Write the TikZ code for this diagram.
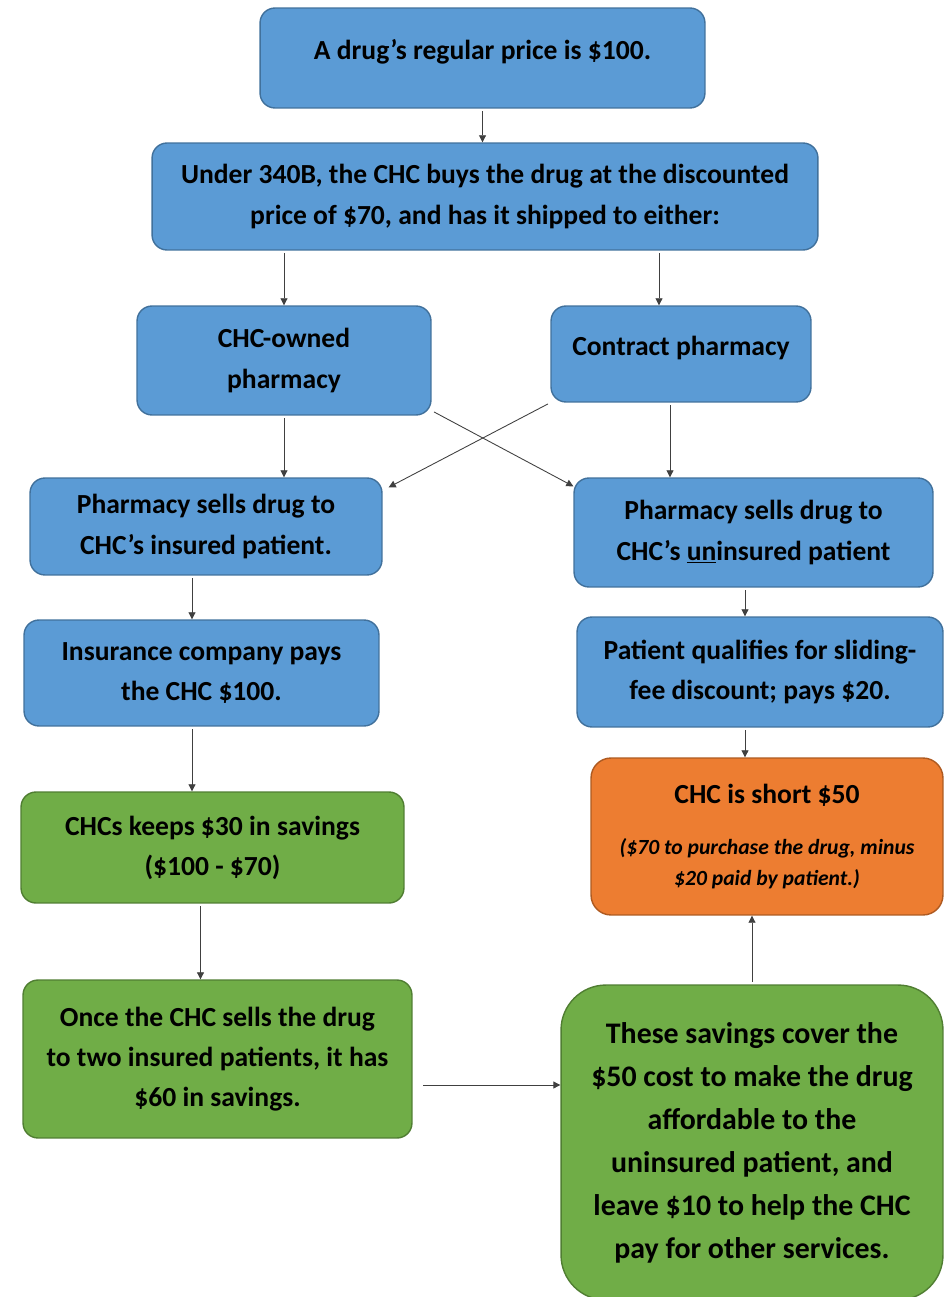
\documentclass[tikz,border=0pt]{standalone}
\usepackage{fontspec}
\setmainfont{Carlito}
\usetikzlibrary{arrows.meta}
\definecolor{boxblue}{HTML}{5B9BD5}
\definecolor{blueline}{HTML}{41719C}
\definecolor{boxgreen}{HTML}{70AD47}
\definecolor{greenline}{HTML}{507E32}
\definecolor{boxorange}{HTML}{ED7D31}
\definecolor{orangeline}{HTML}{AE5A21}
\definecolor{arrowgray}{HTML}{404040}
\newcommand{\notefont}{\itshape\fontsize{12.3}{17.6}\selectfont}
\begin{document}
\begin{tikzpicture}[x=0.02cm,y=-0.02cm]
			\tikzstyle{every node}+=[inner sep=0pt, align=center, font=\bfseries\fontsize{15.7}{22.8}\selectfont]
			\tikzstyle{bluebox}=[draw=blueline, fill=boxblue, line width=0.8pt, rounded corners=0.3cm]
			\tikzstyle{greenbox}=[draw=greenline, fill=boxgreen, line width=0.8pt, rounded corners=0.3cm]
			\tikzstyle{orangebox}=[draw=orangeline, fill=boxorange, line width=0.8pt, rounded corners=0.4cm]
			\tikzstyle{highline}=[text height=11pt, text depth=9.8pt]
			\tikzstyle{arr}=[draw=arrowgray, line width=0.5pt, -{Triangle[length=4pt,width=4pt]}, shorten <=1.5pt]
			\useasboundingbox (0,0) rectangle (951,1297);
			% top row
			\node [bluebox, highline, minimum width=8.9cm, minimum height=2cm] (price) at (482.5,58) {A drug’s regular price is \$100.};
			\node [bluebox, minimum width=13.32cm, minimum height=2.14cm] (buys) at (485,196.5) {Under 340B, the CHC buys the drug at the discounted\\price of \$70, and has it shipped to either:};
			% pharmacies
			\node [bluebox, minimum width=5.88cm, minimum height=2.18cm] (owned) at (284,360.5) {CHC-owned\\pharmacy};
			\node [bluebox, highline, minimum width=5.2cm, minimum height=1.92cm] (contract) at (681,354) {Contract pharmacy};
			% left column
			\node [bluebox, minimum width=7.04cm, minimum height=1.94cm] (insured) at (206,526.5) {Pharmacy sells drug to\\CHC’s insured patient.};
			\node [bluebox, minimum width=7.1cm, minimum height=2.12cm] (pays) at (201.5,673) {Insurance company pays\\the CHC \$100.};
			\node [greenbox, minimum width=7.66cm, minimum height=2.22cm] (keeps) at (212.5,847.5) {CHCs keeps \$30 in savings\\(\$100 - \$70)};
			\node [greenbox, minimum width=7.78cm, minimum height=3.16cm] (twice) at (217.5,1059) {Once the CHC sells the drug\\to two insured patients, it has\\\$60 in savings.};
			% right column
			\node [bluebox, minimum width=7.18cm, minimum height=2.18cm] (uninsured) at (753.5,532.5) {Pharmacy sells drug to\\CHC’s \underline{un}insured patient};
			\node [bluebox, minimum width=7.32cm, minimum height=2.2cm] (sliding) at (760,672) {Patient qualifies for sliding-\\fee discount; pays \$20.};
			\node [orangebox, minimum width=7.04cm, minimum height=3.14cm] (shortfall) at (767,836.5) {\fontsize{15.7}{20}\selectfont CHC is short \$50\\[6pt]\notefont (\$70 to purchase the drug, minus\\[-5pt]\notefont \$20 paid by patient.)};
			\node [greenbox, rounded corners=0.9cm, minimum width=7.64cm, minimum height=6.3cm, font=\bfseries\fontsize{17}{24.5}\selectfont] (cover) at (752,1142.5) {These savings cover the\\\$50 cost to make the drug\\affordable to the\\uninsured patient, and\\leave \$10 to help the CHC\\pay for other services.};
			% connectors
			\coordinate (c1) at ([xshift=-0.44cm]contract.north);
			\coordinate (c2) at ([xshift=-0.22cm]contract.south);
			\coordinate (c3) at ([xshift=-0.28cm]insured.south);
			\coordinate (c4) at ([xshift=-0.17cm]uninsured.south);
			\coordinate (c5) at ([xshift=-0.24cm]keeps.south);
			\coordinate (c6) at ([yshift=-0.52cm]twice.east);
			\draw [arr] (price.south) -- (price.south |- buys.north);
			\draw [arr] (buys.south -| owned.north) -- (owned.north);
			\draw [arr] (buys.south -| c1) -- (c1);
			\draw [arr] (owned.south) -- (owned.south |- insured.north);
			\draw [arr] ([yshift=0.1cm]owned.south east) -- ([yshift=-0.18cm]uninsured.north west);
			\draw [arr] (contract.south west) -- ([xshift=0.12cm,yshift=-0.2cm]insured.north east);
			\draw [arr] (c2) -- (c2 |- uninsured.north);
			\draw [arr] (c3) -- (c3 |- pays.north);
			\draw [arr] (c4) -- (c4 |- sliding.north);
			\draw [arr] (pays.south -| c3) -- (c3 |- keeps.north);
			\draw [arr] (sliding.south -| c4) -- (c4 |- shortfall.north);
			\draw [arr] (c5) -- (c5 |- twice.north);
			\draw [arr] ([xshift=0.16cm]c6) -- (c6 -| cover.west);
			\draw [arr] (cover.north) -- (cover.north |- shortfall.south);
		\end{tikzpicture}
\end{document}
